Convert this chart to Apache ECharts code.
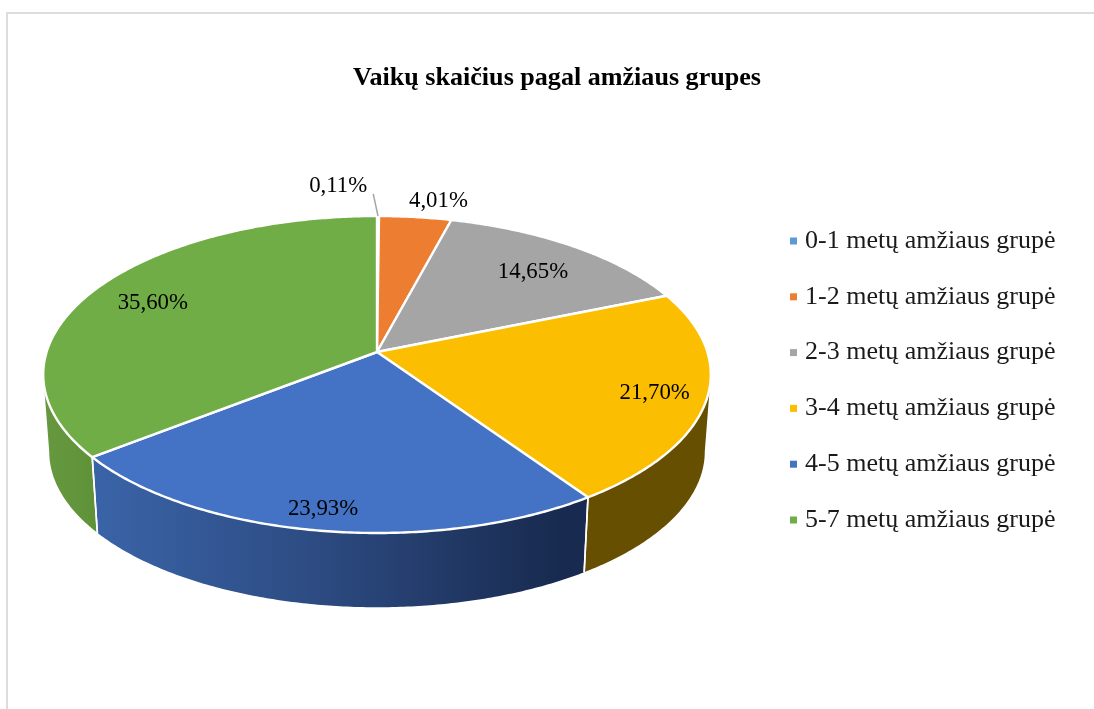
<!DOCTYPE html>
<html><head><meta charset="utf-8">
<style>html,body{margin:0;padding:0;background:#fff}#c{width:1094px;height:709px}</style>
<script src="https://cdn.jsdelivr.net/npm/echarts@6/dist/echarts.min.js"></script>
</head><body><div id="c"></div>
<script>
const categories = ['0-1 metų amžiaus grupė','1-2 metų amžiaus grupė','2-3 metų amžiaus grupė','3-4 metų amžiaus grupė','4-5 metų amžiaus grupė','5-7 metų amžiaus grupė'];
const values = [0.11, 4.01, 14.65, 21.70, 23.93, 35.60];
const titleText = 'Vaikų skaičius pagal amžiaus grupes';

const colors = ['#5b9bd5','#ed7d31','#a5a5a5','#fbbe00','#4472c4','#70ad47'];
const labelRadius = [1.279, 1.153, 0.76, 0.847, 0.886, 0.795];
const labelShiftX = [-40, 18, 3, 0, -3, 1];
const labelShiftY = 2;
const serifFont = '"Liberation Serif","Times New Roman",serif';

// Perspective model of the tilted disc
const P = {cx:377, cy:352, a:330.4, b:155.3, k:0.142, wallScale:0.982, wallDrop:77.5};
function project(theta, r) {
  const x = r*Math.sin(theta), y = -r*Math.cos(theta), w = 1 - P.k*y;
  return [P.cx + P.a*x/w, P.cy + P.b*y/w];
}
function lower(p) {
  return [P.cx + (p[0]-P.cx)*P.wallScale, P.cy + (p[1]-P.cy)*P.wallScale + P.wallDrop];
}
const total = values.reduce((s,v)=>s+v,0);
const visFrom = Math.acos(-P.k), visTo = 2*Math.PI - visFrom;
function arc(t0, t1) {
  const n = Math.max(2, Math.ceil(Math.abs(t1-t0)/0.01)), out = [];
  for (let i=0;i<=n;i++) out.push(project(t0+(t1-t0)*i/n, 1));
  return out;
}
function wallFill(i) {
  if (i===4) return new echarts.graphic.LinearGradient(92,0,560,0,[
    {offset:0,color:'#3a64a8'},{offset:0.5,color:'#2c4a80'},{offset:1,color:'#182a4f'}],true);
  if (i===5) return new echarts.graphic.LinearGradient(44,0,97,0,[
    {offset:0,color:'#66993f'},{offset:1,color:'#5f9139'}],true);
  return '#664f00';
}
function makeRender(i) {
  return function(params, api) {
    const v = api.value(0);
    const before = values.slice(0,i).reduce((s,x)=>s+x,0);
    const t0 = before/total*2*Math.PI, t1 = (before+v)/total*2*Math.PI, mid=(t0+t1)/2;
    const children = [];
    const w0 = Math.max(t0,visFrom), w1 = Math.min(t1,visTo);
    if (w1 > w0) {
      const up = arc(w0,w1), lo = up.map(lower).reverse();
      children.push({type:'polygon',shape:{points:up.concat(lo)},style:{fill:wallFill(i)},z2:1});
      const edges = [];
      if (t0>=visFrom) edges.push(up[0]);
      if (t1<=visTo) edges.push(up[up.length-1]);
      edges.forEach(p=>{
        const q=lower(p);
        children.push({type:'line',shape:{x1:p[0],y1:p[1],x2:q[0],y2:q[1]},style:{stroke:'#fff',lineWidth:1.6},z2:2});
      });
    }
    const top = [[P.cx,P.cy]].concat(arc(t0,t1));
    children.push({type:'polygon',shape:{points:top},style:{fill:colors[i],stroke:'#fff',lineWidth:2.4,lineJoin:'round'},z2:3});
    const lp = project(mid, labelRadius[i]);
    const lx = lp[0]+labelShiftX[i], ly = lp[1]+labelShiftY;
    children.push({type:'text',style:{x:lx,y:ly,text:(v/total*100).toFixed(2).replace('.',',')+'%',
      fill:'#000',font:'22.8px '+serifFont,align:'center',verticalAlign:'middle'},z2:10});
    if (i===0) {
      const e = project(mid,1);
      children.push({type:'line',shape:{x1:lx+35,y1:ly+8,x2:e[0],y2:e[1]},style:{stroke:'#a5a5a5',lineWidth:1.5},z2:9});
    }
    return {type:'group',children};
  };
}
const chart = echarts.init(document.getElementById('c'),null,{renderer:'canvas'});
chart.setOption({
  animation:false,
  backgroundColor:'#fff',
  color:colors,
  title:{text:titleText,left:557,top:65,textAlign:'center',padding:0,
    textStyle:{fontFamily:serifFont,fontWeight:'bold',fontSize:26.1,color:'#000'}},
  legend:{orient:'vertical',left:790,top:228,padding:0,icon:'rect',itemWidth:7,itemHeight:7,itemGap:29.8,
    selectedMode:false,data:categories,
    textStyle:{fontFamily:serifFont,fontSize:26,color:'#1a1a1a',padding:[0,0,0,3],lineHeight:24}},
  graphic:[{type:'rect',shape:{x:7,y:13,width:1200,height:800},silent:true,z:-1,
    style:{fill:'#fff',stroke:'#dcdcdc',lineWidth:2}}],
  series:categories.map((name,i)=>({
    type:'custom',name,coordinateSystem:'none',silent:true,
    itemStyle:{color:colors[i]},data:[[values[i]]],renderItem:makeRender(i)
  }))
});
</script></body></html>
